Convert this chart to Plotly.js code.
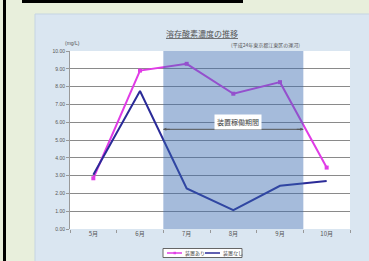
<!DOCTYPE html>
<html><head><meta charset="utf-8">
<script src="https://cdn.plot.ly/plotly-3.0.1.min.js"></script>
<style>html,body{margin:0;padding:0;background:#e8efdc;}#c{width:369px;height:261px;}</style>
</head><body><div id="c"></div>
<script>
const months = ['5月','6月','7月','8月','9月','10月'];
const withDevice = [2.85, 8.9, 9.28, 7.6, 8.25, 3.45];
const withoutDevice = [3.05, 7.75, 2.28, 1.06, 2.43, 2.69];
const seriesNames = ['装置あり', '装置なし'];
const seriesColors = ['#e03ce6', '#2b2b98'];
const yTicks = [0,1,2,3,4,5,6,7,8,9,10];

const W = 369, H = 261, L = 70, R = 19, T = 51, B = 32;
const pw = W - L - R, ph = H - T - B;
const px = v => (v - L) / pw;
const py = v => (H - B - v) / ph;
const jp = '"Noto Sans CJK JP", sans-serif';

const traces = [
  {x: months, y: withDevice, name: seriesNames[0], type: 'scatter', mode: 'lines+markers',
   line: {color: seriesColors[0], width: 2}, marker: {color: seriesColors[0], size: 4, symbol: 'square'}},
  {x: months, y: withoutDevice, name: seriesNames[1], type: 'scatter', mode: 'lines',
   line: {color: seriesColors[1], width: 2}}
];

const legY = py(253);
const legendShapes = [
  {type: 'rect', xref: 'paper', yref: 'paper', x0: px(163), x1: px(242), y0: py(257.5), y1: py(248.5),
   fillcolor: '#ffffff', line: {color: '#666', width: 1}, layer: 'above'},
  {type: 'line', xref: 'paper', yref: 'paper', x0: px(167), x1: px(182), y0: legY, y1: legY,
   line: {color: seriesColors[0], width: 1.5}, layer: 'above'},
  {type: 'rect', xref: 'paper', yref: 'paper', x0: px(173.5), x1: px(176), y0: py(254.2), y1: py(251.8),
   fillcolor: seriesColors[0], line: {width: 0}, layer: 'above'},
  {type: 'line', xref: 'paper', yref: 'paper', x0: px(205), x1: px(220), y0: legY, y1: legY,
   line: {color: seriesColors[1], width: 1.5}, layer: 'above'}
];
const legendAnn = [
  {xref: 'paper', yref: 'paper', x: px(183), y: legY, xanchor: 'left', yanchor: 'middle', text: seriesNames[0],
   showarrow: false, font: {family: jp, size: 5, color: '#444'}},
  {xref: 'paper', yref: 'paper', x: px(221), y: legY, xanchor: 'left', yanchor: 'middle', text: seriesNames[1],
   showarrow: false, font: {family: jp, size: 5, color: '#444'}}
];

const layout = {
  width: W, height: H,
  margin: {l: L, r: R, t: T, b: B, pad: 0, autoexpand: false},
  paper_bgcolor: '#e8efdc',
  plot_bgcolor: 'rgba(0,0,0,0)',
  showlegend: false,
  xaxis: {type: 'category', categoryorder: 'array', categoryarray: months,
    range: [-0.5, 5.5], showgrid: false, zeroline: false, automargin: false,
    showline: false, ticks: 'outside', ticklen: 3, tickcolor: '#999', tickson: 'boundaries',
    tickfont: {family: jp, size: 6, color: '#555'}},
  yaxis: {range: [0, 10], tickvals: yTicks, ticktext: yTicks.map(v => v.toFixed(2)), automargin: false,
    showgrid: true, gridcolor: '#8a8a8a', gridwidth: 1, zeroline: false,
    showline: true, linecolor: '#999', linewidth: 1, ticks: 'outside', ticklen: 3, tickcolor: '#999',
    tickfont: {family: 'Liberation Sans, sans-serif', size: 5, color: '#555'}},
  shapes: [
    {type: 'rect', xref: 'paper', yref: 'paper', x0: px(35), x1: px(372), y0: py(264), y1: py(14),
     fillcolor: '#dae6f1', line: {color: '#c5d4e3', width: 1}, layer: 'below'},
    {type: 'rect', xref: 'paper', yref: 'paper', x0: 0, x1: 1, y0: 0, y1: 1,
     fillcolor: '#ffffff', line: {width: 0}, layer: 'below'},
    {type: 'rect', xref: 'paper', yref: 'paper', x0: px(22), x1: px(243), y0: py(3), y1: py(-2),
     fillcolor: '#000', line: {width: 0}, layer: 'below'},
    {type: 'rect', xref: 'paper', yref: 'paper', x0: px(3), x1: px(6), y0: py(264), y1: py(-2),
     fillcolor: '#000', line: {width: 0}, layer: 'below'},
    {type: 'rect', xref: 'x', yref: 'paper', x0: 1.5, x1: 4.5, y0: 0, y1: 1,
     fillcolor: 'rgba(55,105,175,0.45)', line: {width: 0}, layer: 'above'},
    {type: 'line', xref: 'x', yref: 'y', x0: 1.5, x1: 4.5, y0: 5.6, y1: 5.6,
     line: {color: '#555', width: 1}, layer: 'above'}
  ].concat(legendShapes),
  annotations: [
    {xref: 'paper', yref: 'paper', x: px(202), y: py(33), yanchor: 'middle', text: '<u>溶存酸素濃度の推移</u>',
     showarrow: false, font: {family: jp, size: 8, color: '#555'}},
    {xref: 'paper', yref: 'paper', x: px(302), y: py(45), yanchor: 'middle', text: '(平成24年東京都江東区の運河)',
     showarrow: false, font: {family: jp, size: 5, color: '#555'}},
    {xref: 'paper', yref: 'paper', x: px(63), y: py(43), yanchor: 'middle', text: '(mg/L)',
     showarrow: false, font: {family: 'Liberation Sans, sans-serif', size: 5, color: '#555'}},
    {xref: 'x', yref: 'y', x: 3.1, y: 6.0, yanchor: 'middle', text: '装置稼働期間', showarrow: false,
     bgcolor: '#ffffff', borderpad: 2, font: {family: jp, size: 7, color: '#444'}},
    {xref: 'x', yref: 'y', x: 1.5, y: 5.6, ax: 8, ay: 0, text: '', showarrow: true,
     arrowhead: 2, arrowsize: 0.6, arrowwidth: 1, arrowcolor: '#555'},
    {xref: 'x', yref: 'y', x: 4.5, y: 5.6, ax: -8, ay: 0, text: '', showarrow: true,
     arrowhead: 2, arrowsize: 0.6, arrowwidth: 1, arrowcolor: '#555'}
  ].concat(legendAnn)
};

Plotly.newPlot('c', traces, layout, {displayModeBar: false, staticPlot: true});
</script></body></html>
